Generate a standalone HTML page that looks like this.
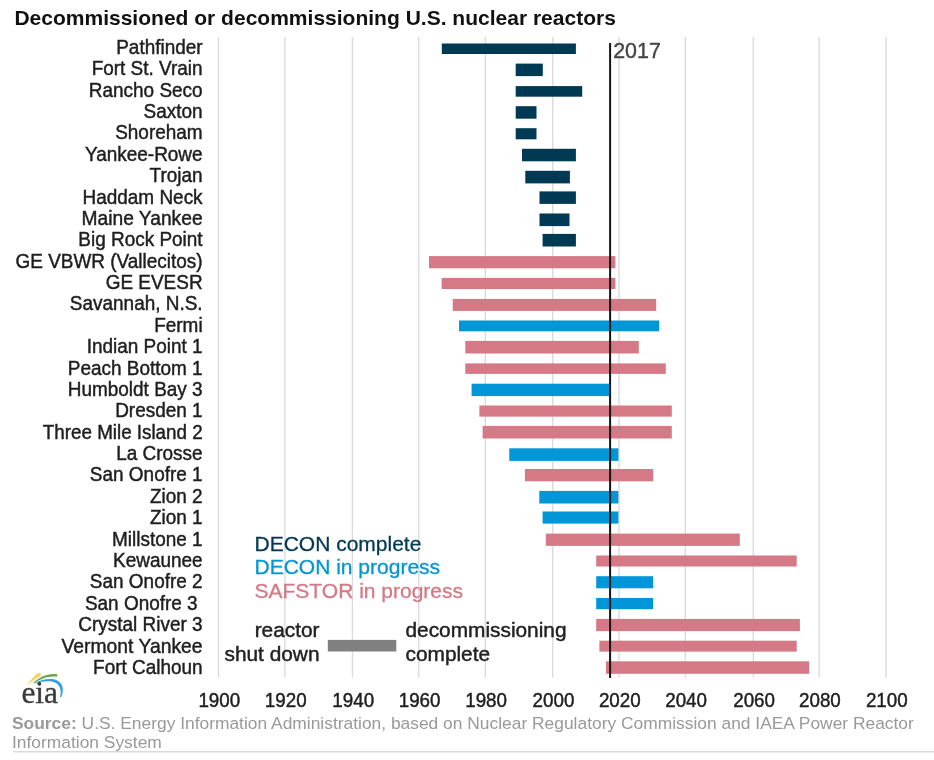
<!DOCTYPE html>
<html lang="en"><head><meta charset="utf-8"><title>Decommissioned or decommissioning U.S. nuclear reactors</title>
<style>
html,body{margin:0;padding:0;background:#fff;}
body{width:934px;height:760px;overflow:hidden;position:relative;font-family:"Liberation Sans",Arial,sans-serif;}
#chart{position:absolute;left:0;top:0;width:934px;height:714px;display:block;filter:blur(0.45px);}
#chart text{font-family:"Liberation Sans",Arial,sans-serif;}
.lbl,.ax,.nt{stroke:#1e1e1e;stroke-width:0.45px;}
.lbl{font-size:19.6px;fill:#1e1e1e;text-anchor:end;}
.ax{font-size:19.8px;fill:#1e1e1e;text-anchor:middle;}
.ttl{font-size:19.9px;font-weight:bold;fill:#111;}
.lg{font-size:21.0px;stroke-width:0.3px;}
.nt{font-size:20.85px;fill:#222;}
#cap{position:absolute;left:13px;top:714px;will-change:transform;width:921px;font-size:17.4px;line-height:18.5px;padding-bottom:0;white-space:nowrap;color:#999;border-bottom:1px solid #dadada;box-shadow:0 1px 0 #ededed;margin:0}
#cap b{font-weight:bold;}
#cap div{margin-left:-1px;}
</style></head><body>
<svg id="chart" width="934" height="714" viewBox="0 0 934 714">
<text class="ttl" x="14.4" y="25.0" textLength="601.5" lengthAdjust="spacingAndGlyphs">Decommissioned or decommissioning U.S. nuclear reactors</text>
<g stroke="#d9d9d9" stroke-width="1.3">
<line x1="218.5" y1="37" x2="218.5" y2="677.5"/>
<line x1="284.9" y1="37" x2="284.9" y2="677.5"/>
<line x1="352.4" y1="37" x2="352.4" y2="677.5"/>
<line x1="418.8" y1="37" x2="418.8" y2="677.5"/>
<line x1="485.3" y1="37" x2="485.3" y2="677.5"/>
<line x1="552.7" y1="37" x2="552.7" y2="677.5"/>
<line x1="619.0" y1="37" x2="619.0" y2="677.5"/>
<line x1="685.3" y1="37" x2="685.3" y2="677.5"/>
<line x1="753.3" y1="37" x2="753.3" y2="677.5"/>
<line x1="819.1" y1="37" x2="819.1" y2="677.5"/>
<line x1="886.0" y1="37" x2="886.0" y2="677.5"/>
</g>
<g>
<rect x="441.8" y="43.5" width="134.1" height="10.5" fill="#003953"/>
<rect x="515.7" y="63.6" width="27.1" height="12.5" fill="#003953"/>
<rect x="515.7" y="86.1" width="66.5" height="10.6" fill="#003953"/>
<rect x="515.7" y="106.2" width="20.8" height="12.5" fill="#003953"/>
<rect x="515.7" y="128.2" width="20.8" height="11.1" fill="#003953"/>
<rect x="522.0" y="148.8" width="53.9" height="12.5" fill="#003953"/>
<rect x="525.3" y="170.8" width="44.6" height="12.6" fill="#003953"/>
<rect x="539.5" y="191.4" width="36.4" height="12.5" fill="#003953"/>
<rect x="539.5" y="213.5" width="30.0" height="12.6" fill="#003953"/>
<rect x="542.6" y="233.9" width="33.3" height="12.6" fill="#003953"/>
<rect x="429.0" y="256.1" width="186.4" height="12.2" fill="#d47985"/>
<rect x="441.6" y="277.9" width="173.8" height="11.1" fill="#d47985"/>
<rect x="452.7" y="298.9" width="203.5" height="12.0" fill="#d47985"/>
<rect x="459.0" y="320.5" width="200.2" height="10.8" fill="#0096d7"/>
<rect x="465.3" y="340.9" width="173.5" height="12.6" fill="#d47985"/>
<rect x="465.3" y="363.4" width="200.5" height="10.5" fill="#d47985"/>
<rect x="471.6" y="383.7" width="138.4" height="12.4" fill="#0096d7"/>
<rect x="479.4" y="405.5" width="192.4" height="11.1" fill="#d47985"/>
<rect x="482.6" y="425.9" width="189.2" height="12.6" fill="#d47985"/>
<rect x="509.3" y="448.3" width="109.1" height="12.6" fill="#0096d7"/>
<rect x="524.9" y="469.0" width="128.3" height="12.3" fill="#d47985"/>
<rect x="539.3" y="490.9" width="79.1" height="12.6" fill="#0096d7"/>
<rect x="542.6" y="511.5" width="75.8" height="12.1" fill="#0096d7"/>
<rect x="545.8" y="533.6" width="194.0" height="12.3" fill="#d47985"/>
<rect x="596.2" y="555.5" width="200.5" height="11.0" fill="#d47985"/>
<rect x="596.2" y="576.2" width="56.9" height="12.1" fill="#0096d7"/>
<rect x="596.2" y="598.0" width="56.9" height="11.2" fill="#0096d7"/>
<rect x="596.2" y="618.9" width="203.7" height="12.2" fill="#d47985"/>
<rect x="599.4" y="640.7" width="197.3" height="10.9" fill="#d47985"/>
<rect x="605.9" y="661.3" width="203.3" height="12.5" fill="#d47985"/>
</g>
<g class="lbl" transform="translate(202.6 0.6) scale(0.968 1)">
<text x="0" y="53.3">Pathfinder</text>
<text x="0" y="74.7">Fort St. Vrain</text>
<text x="0" y="96.1">Rancho Seco</text>
<text x="0" y="117.4">Saxton</text>
<text x="0" y="138.8">Shoreham</text>
<text x="0" y="160.2">Yankee-Rowe</text>
<text x="0" y="181.6">Trojan</text>
<text x="0" y="203.0">Haddam Neck</text>
<text transform="translate(0 224.3) scale(1.013 1)">Maine Yankee</text>
<text x="0" y="245.7">Big Rock Point</text>
<text x="0" y="267.1">GE VBWR (Vallecitos)</text>
<text x="0" y="288.5">GE EVESR</text>
<text x="0" y="309.9">Savannah, N.S.</text>
<text x="0" y="331.2">Fermi</text>
<text x="0" y="352.6">Indian Point 1</text>
<text x="0" y="374.0">Peach Bottom 1</text>
<text x="0" y="395.4">Humboldt Bay 3</text>
<text x="0" y="416.8">Dresden 1</text>
<text transform="translate(0 438.1) scale(0.991 1)">Three Mile Island 2</text>
<text x="0" y="459.5">La Crosse</text>
<text x="0" y="480.9">San Onofre 1</text>
<text x="0" y="502.3">Zion 2</text>
<text x="0" y="523.7">Zion 1</text>
<text x="0" y="545.0">Millstone 1</text>
<text x="0" y="566.4">Kewaunee</text>
<text x="0" y="587.8">San Onofre 2</text>
<text x="-5.1" y="609.2">San Onofre 3</text>
<text x="0" y="630.6">Crystal River 3</text>
<text transform="translate(0 651.9) scale(1.019 1)">Vermont Yankee</text>
<text x="0" y="673.3">Fort Calhoun</text>
</g>
<line x1="610.1" y1="43" x2="610.1" y2="678" stroke="#151515" stroke-width="2"/>
<text x="613.2" y="58.3" style="font-size:21.4px;fill:#444;stroke:#444;stroke-width:0.4px">2017</text>
<g class="ax">
<text transform="translate(219.3 706.5) scale(0.95 1)">1900</text>
<text transform="translate(285.7 706.5) scale(0.95 1)">1920</text>
<text transform="translate(353.2 706.5) scale(0.95 1)">1940</text>
<text transform="translate(419.6 706.5) scale(0.95 1)">1960</text>
<text transform="translate(486.1 706.5) scale(0.95 1)">1980</text>
<text transform="translate(553.5 706.5) scale(0.95 1)">2000</text>
<text transform="translate(619.8 706.5) scale(0.95 1)">2020</text>
<text transform="translate(686.1 706.5) scale(0.95 1)">2040</text>
<text transform="translate(754.1 706.5) scale(0.95 1)">2060</text>
<text transform="translate(819.9 706.5) scale(0.95 1)">2080</text>
<text transform="translate(886.8 706.5) scale(0.95 1)">2100</text>
</g>
<text class="lg" x="254.5" y="550.5" fill="#003953" stroke="#003953">DECON complete</text>
<text class="lg" x="254.5" y="574.1" fill="#0096d7" stroke="#0096d7">DECON in progress</text>
<text class="lg" x="254.5" y="597.6" fill="#d47985" stroke="#d47985">SAFSTOR in progress</text>
<text class="nt" x="319.5" y="636.9" text-anchor="end">reactor</text>
<text class="nt" x="319.5" y="660.5" text-anchor="end">shut down</text>
<rect x="327.8" y="639.9" width="68.5" height="11.6" fill="#808080"/>
<text class="nt" x="405.5" y="636.9">decommissioning</text>
<text class="nt" x="405.5" y="660.5">complete</text>
<g id="eia">
<path d="M26.5 686 C30.2 680.2 34.2 676 38.9 672.8 L41.6 675.1 C36 677.8 31 681.8 26.5 686 Z" fill="#f8d04a"/>
<path d="M33.3 682.8 C39 677.3 47 673 57 674.1 L57.4 676.7 C48 675.7 41 678.6 34 683.4 Z" fill="#6ea646"/>
<path d="M35.5 682.9 C42 679.2 51 677.8 57.2 680.4 C62.8 683 64.6 689.7 61 697.4 L60 696.9 C61.6 691.2 60.6 686.4 56.4 683.2 C51 680.2 43 680.8 35.8 683.5 Z" fill="#2fa1e4"/>
<text x="21.4" y="703.2" textLength="36.6" lengthAdjust="spacingAndGlyphs" style="font-family:'Liberation Serif',serif;font-size:31.5px;fill:#3a3a3a;stroke:#3a3a3a;stroke-width:0.35px">eia</text>
</g>
</svg>
<div id="cap"><div><b>Source:</b> U.S. Energy Information Administration, based on Nuclear Regulatory Commission and IAEA Power Reactor<br>Information System</div></div>
</body></html>
